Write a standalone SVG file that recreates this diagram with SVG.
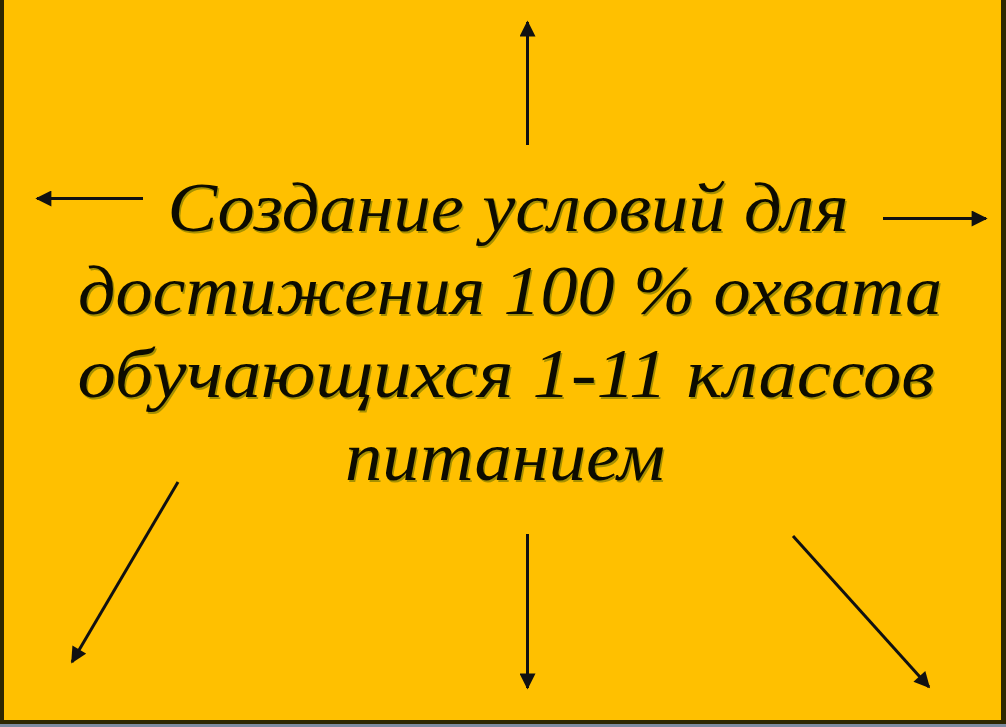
<svg xmlns="http://www.w3.org/2000/svg" width="1006" height="727" viewBox="0 0 1006 727">
  <style>
    .t { font-family: "Liberation Serif", "Times New Roman", serif; font-style: italic; font-size: 70px; text-anchor: middle; }
    .sh { fill: #5f6a00; opacity: 0.55; }
    .fg { fill: #0d0c00; }
    .arr { stroke: #111; stroke-width: 3; fill: none; marker-end: url(#ah); }
  </style>
  <defs>
    <marker id="ah" viewBox="0 0 10 10" refX="9" refY="5" markerUnits="userSpaceOnUse" markerWidth="18" markerHeight="16" orient="auto">
      <path d="M0,0 L10,5 L0,10 Z" fill="#111"/>
    </marker>
  </defs>
  <rect x="0" y="0" width="1006" height="727" fill="#FFC000"/>
  <rect x="0" y="724" width="1006" height="3" fill="#7d8ba0"/>
  <rect x="0" y="720" width="1006" height="4" fill="#2e2700"/>
  <rect x="0" y="0" width="4" height="724" fill="#2e2700"/>
  <rect x="1001" y="0" width="5" height="724" fill="#2e2700"/>

  <g id="connectors">
    <line class="arr" x1="527.5" y1="145" x2="527.5" y2="22"/>
    <line class="arr" x1="143" y1="198.5" x2="37" y2="198.5"/>
    <line class="arr" x1="883" y1="218.5" x2="986" y2="218.5"/>
    <line class="arr" x1="178" y1="482" x2="72" y2="662"/>
    <line class="arr" x1="527.5" y1="534" x2="527.5" y2="688"/>
    <line class="arr" x1="793" y1="536" x2="929" y2="687"/>
  </g>

  <g id="center-text">
    <g class="sh">
      <text class="t" x="509.5" y="232.5" textLength="681" lengthAdjust="spacingAndGlyphs">Создание условий для</text>
      <text class="t" x="511.5" y="315.5" textLength="864" lengthAdjust="spacingAndGlyphs">достижения 100 % охвата</text>
      <text class="t" x="507.5" y="398.5" textLength="857" lengthAdjust="spacingAndGlyphs">обучающихся 1-11 классов</text>
      <text class="t" x="506.5" y="481.5" textLength="320" lengthAdjust="spacingAndGlyphs">питанием</text>
    </g>
    <g class="fg">
      <text class="t" x="508" y="231" textLength="681" lengthAdjust="spacingAndGlyphs">Создание условий для</text>
      <text class="t" x="510" y="314" textLength="864" lengthAdjust="spacingAndGlyphs">достижения 100 % охвата</text>
      <text class="t" x="506" y="397" textLength="857" lengthAdjust="spacingAndGlyphs">обучающихся 1-11 классов</text>
      <text class="t" x="505" y="480" textLength="320" lengthAdjust="spacingAndGlyphs">питанием</text>
    </g>
  </g>
</svg>
